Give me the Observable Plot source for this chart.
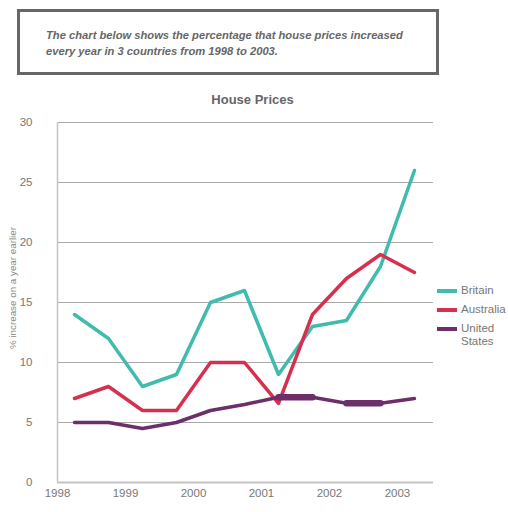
<!DOCTYPE html>
<html>
<head>
<meta charset="utf-8">
<script src="https://cdn.jsdelivr.net/npm/d3@7"></script>
<script src="https://cdn.jsdelivr.net/npm/@observablehq/plot@0.6"></script>
<style>
  body { margin: 0; background: #fff; font-family: "Liberation Sans", Arial, sans-serif; }
  #wrap { position: relative; width: 508px; height: 512px; }
  #box {
    position: absolute; left: 17px; top: 9px; width: 422px; height: 66px;
    box-sizing: border-box; border: 3px solid #666;
  }
  #box p {
    margin: 0; position: absolute; left: 26px; top: 15px;
    font-size: 11.2px; line-height: 16px; font-weight: bold; font-style: italic; color: #666;
  }
  #title {
    position: absolute; top: 92px; left: 0; width: 505px; text-align: center;
    font-size: 13px; font-weight: bold; color: #666;
  }
  #ylabel {
    position: absolute; left: 12px; top: 288px; white-space: nowrap;
    transform: translate(-50%, -50%) rotate(-90deg);
    font-size: 9.8px; color: #888;
  }
  #chart { position: absolute; left: 0; top: 110px; }
  #legend { position: absolute; left: 437px; top: 284px; font-size: 11.5px; color: #777; }
  #legend .item { display: flex; align-items: flex-start; margin-bottom: 6px; line-height: 13px; }
  #legend .sw { width: 20px; height: 3.5px; margin-top: 5px; margin-right: 4px; }
</style>
</head>
<body>
<div id="wrap">
  <div id="box"><p>The chart below shows the percentage that house prices increased<br>every year in 3 countries from 1998 to 2003.</p></div>
  <div id="title">House Prices</div>
  <div id="chart"></div>
  <div id="ylabel">% increase on a year earlier</div>
  <div id="legend"></div>
</div>
<script>
// half-year positions of the 11 points
let periods = [1998.25, 1998.75, 1999.25, 1999.75, 2000.25, 2000.75, 2001.25, 2001.75, 2002.25, 2002.75, 2003.25];
let britain = [14, 12, 8, 9, 15, 16, 9, 13, 13.5, 18, 26];
let australia = [7, 8, 6, 6, 10, 10, 6.6, 14, 17, 19, 17.5];
let unitedStates = [5, 5, 4.5, 5, 6, 6.5, 7.1, 7.1, 6.6, 6.6, 7];
let yearTicks = [1998, 1999, 2000, 2001, 2002, 2003];
let yTicks = [0, 5, 10, 15, 20, 25, 30];
let countries = ["Britain", "Australia", "United States"];
let colors = ["#40bbae", "#d7304f", "#6c2f6a"];
// odd thicker bits of the US line in the original
let usHeavy = [[6, 7], [8, 9]];

let series = [britain, australia, unitedStates];
let rows = [];
series.forEach((vals, s) => {
  vals.forEach((v, i) => rows.push({country: countries[s], x: periods[i], y: v}));
});
let heavyRows = usHeavy.map(([a, b]) => [a, b].map(i => ({x: periods[i], y: unitedStates[i]})));

let chart = Plot.plot({
  width: 508,
  height: 400,
  marginLeft: 57,
  marginRight: 75,
  marginTop: 12,
  marginBottom: 28,
  style: {fontFamily: "'Liberation Sans', Arial, sans-serif", fontSize: "11.5px", color: "#777"},
  x: {domain: [1998, 2003.53]},
  y: {domain: [0, 30]},
  color: {domain: countries, range: colors},
  marks: [
    Plot.ruleY(yTicks.filter(d => d > 0), {stroke: "#aaa", strokeWidth: 1}),
    Plot.ruleY([0], {stroke: "#c4c4c4", strokeWidth: 2}),
    Plot.ruleX([1998], {stroke: "#c4c4c4", strokeWidth: 1.5}),
    Plot.axisY({ticks: yTicks, tickSize: 0, tickPadding: 25, label: null, fill: "#777"}),
    Plot.axisX({ticks: yearTicks, tickFormat: d => String(d), tickSize: 0, tickPadding: 6, label: null, fill: "#777"}),
    Plot.lineY(rows, {x: "x", y: "y", z: "country", stroke: "country", strokeWidth: 3.5}),
    ...heavyRows.map(r => Plot.lineY(r, {x: "x", y: "y", stroke: colors[2], strokeWidth: 6.5}))
  ]
});
document.getElementById("chart").append(chart);

let legend = d3.select("#legend");
countries.forEach((c, i) => {
  let item = legend.append("div").attr("class", "item");
  item.append("div").attr("class", "sw").style("background", colors[i]);
  item.append("div").html(c === "United States" ? "United<br>States" : c);
});
</script>
</body>
</html>
